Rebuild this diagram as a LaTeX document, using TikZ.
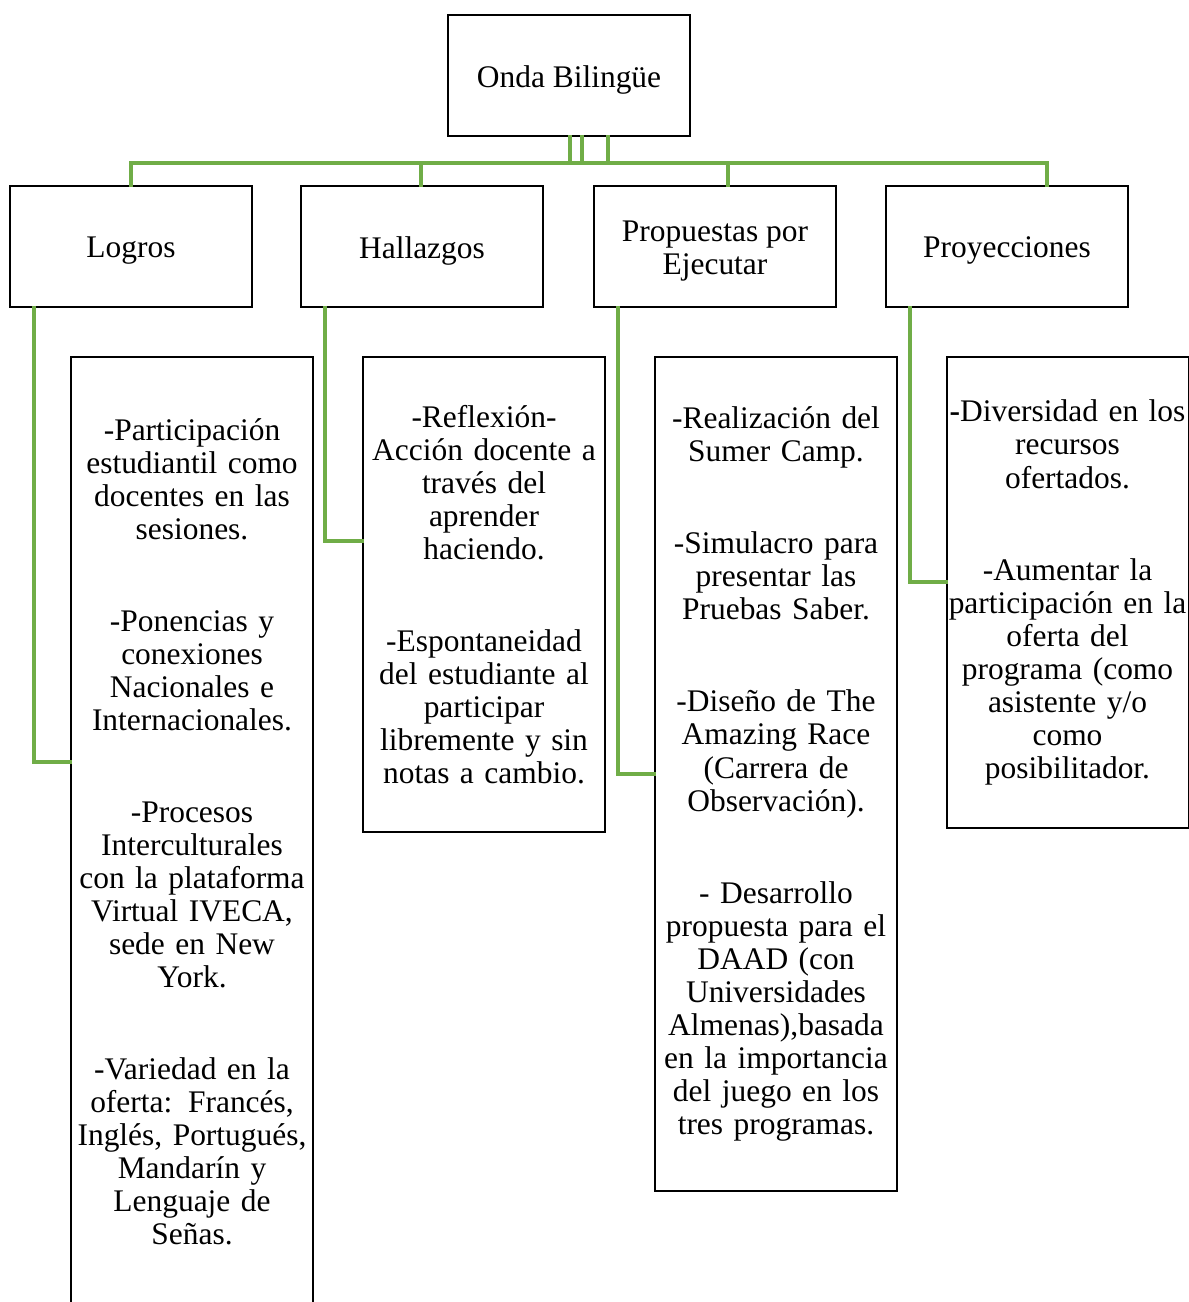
\documentclass[tikz,border=0pt]{standalone}
\usepackage{fontspec}
\setmainfont{Liberation Serif}
\usetikzlibrary{positioning,calc}
\definecolor{linkgreen}{HTML}{70AD47}
\tikzset{headbox/.style={rectangle,draw,line width=1.1pt,minimum width=4.84cm,minimum height=2.42cm,inner sep=2pt,align=center,font=\fontsize{17.9}{18.8}\selectfont},itembox/.style={rectangle,draw,line width=1.1pt,minimum width=4.84cm,text width=5.2cm,inner ysep=0pt,inner xsep=-0.2cm,align=center,font=\fontsize{17.9}{18.8}\selectfont},link/.style={draw=linkgreen,line width=2.2pt},every picture/.style={line cap=rect}}
\newcommand{\gap}{\\[1.18cm]}
\newcommand{\lowered}[1]{\raisebox{-2.4pt}[\height][\depth]{#1}}

\begin{document}
\begin{tikzpicture}[x=0.02cm,y=-0.02cm]
\useasboundingbox (0,0) rectangle (1189,1302);
\node[headbox] (onda) at (569,75.5) {\lowered{Onda Bilingüe}};
\node[headbox] (logros) at (131,246.5) {\lowered{Logros}};
\node[headbox] (hallazgos) at (422,246.5) {\lowered{Hallazgos}};
\node[headbox] (propuestas) at (715,246.5) {\lowered{Propuestas por}\\\lowered{Ejecutar}};
\node[headbox] (proyecciones) at (1007,246.5) {\lowered{Proyecciones}};
\node[itembox,minimum height=19cm] (det1) at (192,832) {-Participación\\estudiantil como\\docentes en las\\sesiones.\gap -Ponencias y\\conexiones\\Nacionales e\\Internacionales.\gap -Procesos\\Interculturales\\con la plataforma\\Virtual IVECA,\\sede en New\\York.\gap -Variedad en la\\oferta: Francés,\\Inglés, Portugués,\\Mandarín y\\Lenguaje de\\Señas.};
\node[itembox,minimum height=9.5cm] (det2) at (484,594.5) {-Reflexión-\\Acción docente a\\través del\\aprender\\haciendo.\gap -Espontaneidad\\del estudiante al\\participar\\libremente y sin\\notas a cambio.};
\node[itembox,minimum height=16.68cm] (det3) at (776,774) {-Realización del\\Sumer Camp.\gap -Simulacro para\\presentar las\\Pruebas Saber.\gap -Diseño de The\\Amazing Race\\(Carrera de\\Observación).\gap - Desarrollo\\propuesta para el\\DAAD (con\\Universidades\\Almenas),basada\\en la importancia\\del juego en los\\tres programas.};
\node[itembox,minimum height=9.42cm] (det4) at (1067.5,592.5) {\textbf{-}Diversidad en los\\recursos\\ofertados.\gap -Aumentar la\\participación en la\\oferta del\\programa (como\\asistente y/o\\como\\posibilitador.};
% trunk from the title down to the bus
\coordinate (bus) at (0,163);
\foreach \dx [count=\k] in {1,13,39}{\path ([xshift=\dx*0.02cm]onda.south) coordinate (ot\k);
\draw[link] (ot\k) -- (ot\k |- bus);}
\foreach \n/\dx in {logros/0,hallazgos/-1,propuestas/13,proyecciones/40}{\path ([xshift=\dx*0.02cm]\n.north) coordinate (\n-t);
\draw[link] (\n-t |- bus) -- (\n-t);}
\draw[link] (logros-t |- bus) -- (proyecciones-t |- bus);
% elbows into the detail boxes
\foreach \n/\d/\dy in {logros/det1/1.4,hallazgos/det2/1.07,propuestas/det3/0,proyecciones/det4/0.21}{\draw[link] ([xshift=0.5cm]\n.south west) |- ([yshift=\dy cm]\d.west);}
\end{tikzpicture}
\end{document}
